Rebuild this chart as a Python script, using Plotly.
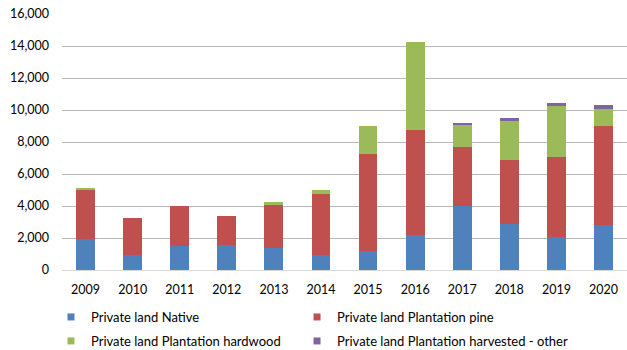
import plotly.graph_objects as go

years = ["2009", "2010", "2011", "2012", "2013", "2014",
         "2015", "2016", "2017", "2018", "2019", "2020"]

native = [1950, 960, 1520, 1560, 1400, 940, 1210, 2170, 3980, 2900, 2060, 2830]
pine = [3070, 2270, 2500, 1810, 2680, 3810, 6060, 6560, 3690, 4000, 5020, 6190]
hardwood = [110, 0, 0, 0, 150, 250, 1710, 5500, 1400, 2440, 3170, 1020]
harvested_other = [0, 0, 0, 0, 0, 0, 0, 0, 120, 170, 190, 250]

series = [
    ("Private land Native", native, "#4f81bd", "legend"),
    ("Private land Plantation pine", pine, "#c0504d", "legend2"),
    ("Private land Plantation hardwood", hardwood, "#9bbb59", "legend3"),
    ("Private land Plantation harvested - other", harvested_other, "#8064a2", "legend4"),
]

fig = go.Figure()
for name, values, color, leg in series:
    fig.add_trace(go.Bar(
        x=years, y=values, name=name, legendgroup=name, showlegend=False,
        marker=dict(color=color, line=dict(width=0)),
    ))
    # small square legend key for the series
    fig.add_trace(go.Scatter(
        x=[None], y=[None], mode="markers", name=name, legendgroup=name,
        legend=leg, marker=dict(symbol="square", size=7, color=color),
    ))

font = dict(family="Lato, Liberation Sans, sans-serif", size=13, color="#000000")
tick_font = dict(family="Lato, Liberation Sans, sans-serif", size=12.5, color="#000000")

legend_common = dict(
    orientation="h", xanchor="left", yanchor="middle",
    font=font, itemwidth=30, bgcolor="rgba(0,0,0,0)",
)

# two columns x two rows of legend entries (plot area: 565 px wide, 256 px tall)
col_x = [-0.0195, 0.416]
row_y = [(270 - 317) / 256, (270 - 341) / 256]

fig.update_layout(
    barmode="stack",
    bargap=0.6,
    width=627, height=350,
    margin=dict(l=62, r=0, t=14, b=80, autoexpand=False),
    plot_bgcolor="white",
    paper_bgcolor="white",
    font=font,
    xaxis=dict(
        showgrid=False, ticks="", showline=True,
        linecolor="#d9d9d9", linewidth=1, tickfont=tick_font,
        ticklabelstandoff=8,
    ),
    yaxis=dict(
        range=[0, 16000], tickvals=list(range(0, 16001, 2000)),
        tickformat=",d", showgrid=True, gridcolor="#b8b8b8", gridwidth=1,
        zeroline=False, ticks="", ticklabelstandoff=12, tickfont=tick_font,
    ),
    legend=dict(x=col_x[0], y=row_y[0], **legend_common),
    legend2=dict(x=col_x[1], y=row_y[0], **legend_common),
    legend3=dict(x=col_x[0], y=row_y[1], **legend_common),
    legend4=dict(x=col_x[1], y=row_y[1], **legend_common),
)

fig.write_html("out.html")
